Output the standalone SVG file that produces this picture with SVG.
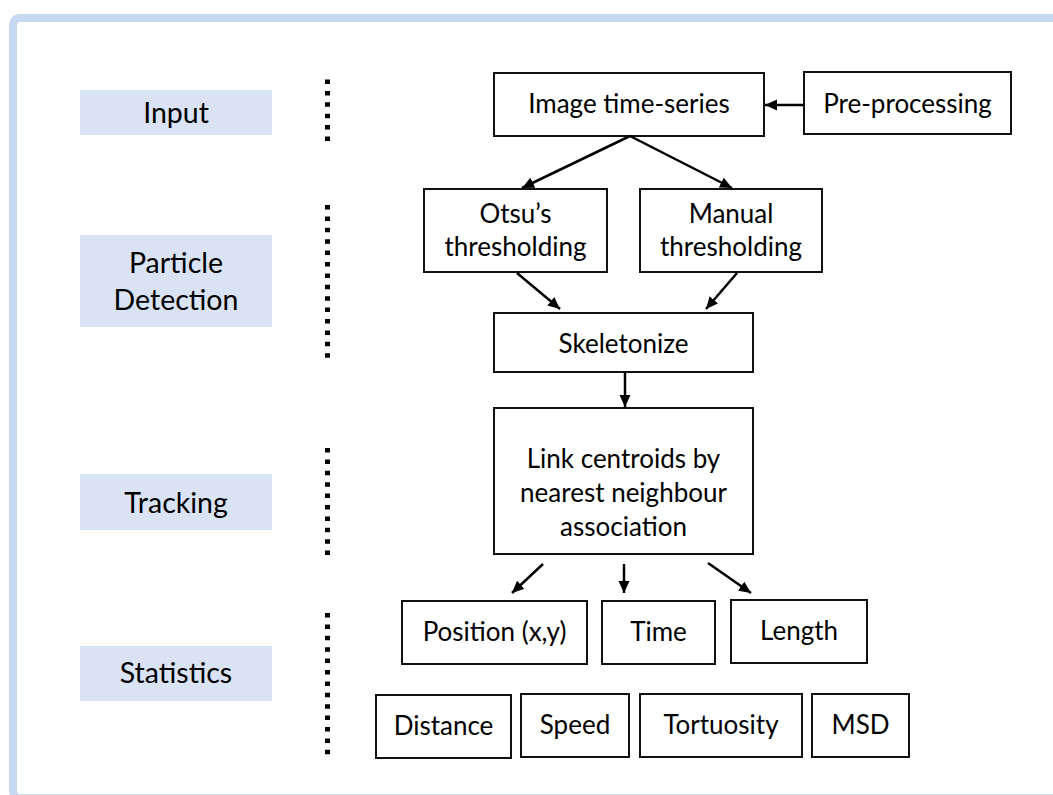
<svg xmlns="http://www.w3.org/2000/svg" width="1053" height="795" viewBox="0 0 1053 795">
<defs>
<style>
.frame{fill:none;stroke:#c6d9f0;stroke-width:8}
.lbl rect{fill:#dae3f3}
.lbl text{font-family:Lato,"Liberation Sans",sans-serif;font-size:28.5px;fill:#000;text-anchor:middle}
.node rect{fill:#fff;stroke:#111;stroke-width:2}
.node text{font-family:Lato,"Liberation Sans",sans-serif;font-size:26px;fill:#000;text-anchor:middle}
.dots line{stroke:#000;stroke-width:5;stroke-dasharray:4.5 6.9}
.conn line{stroke:#000;stroke-width:2.5;marker-end:url(#arr)}
</style>
<marker id="arr" markerUnits="userSpaceOnUse" markerWidth="13" markerHeight="12" refX="12" refY="5.5" orient="auto">
<path d="M0,0 L12,5.5 L0,11 z" fill="#000"/>
</marker>
</defs>
<rect width="1053" height="795" fill="#fff"/>
<rect class="frame" x="13" y="18" width="1070" height="780" rx="7"/>

<g class="dots">
<line x1="327.5" y1="79.5" x2="327.5" y2="142"/>
<line x1="327.5" y1="205" x2="327.5" y2="360"/>
<line x1="327.5" y1="448" x2="327.5" y2="556"/>
<line x1="327.5" y1="613" x2="327.5" y2="760"/>
</g>

<g id="lbl-input" class="lbl"><rect x="80" y="90" width="192" height="45"/><text x="176" y="123">Input</text></g>
<g id="lbl-particle" class="lbl"><rect x="80" y="235" width="192" height="92"/><text x="176" y="273">Particle</text><text x="176" y="310">Detection</text></g>
<g id="lbl-tracking" class="lbl"><rect x="80" y="474" width="192" height="56"/><text x="176" y="513">Tracking</text></g>
<g id="lbl-statistics" class="lbl"><rect x="80" y="646" width="192" height="55"/><text x="176" y="683">Statistics</text></g>

<g id="n-image" class="node"><rect x="494" y="73" width="270" height="63"/><text x="629" y="113">Image time-series</text></g>
<g id="n-pre" class="node"><rect x="804" y="72" width="207" height="62"/><text x="907.5" y="113">Pre-processing</text></g>
<g id="n-otsu" class="node"><rect x="424" y="189" width="183" height="83"/><text x="515.5" y="223">Otsu’s</text><text x="515.5" y="256">thresholding</text></g>
<g id="n-manual" class="node"><rect x="640" y="189" width="182" height="83"/><text x="731" y="223">Manual</text><text x="731" y="256">thresholding</text></g>
<g id="n-skel" class="node"><rect x="494" y="313" width="259" height="59"/><text x="623.5" y="353">Skeletonize</text></g>
<g id="n-link" class="node"><rect x="494" y="408" width="259" height="146"/><text x="623.5" y="468">Link centroids by</text><text x="623.5" y="502">nearest neighbour</text><text x="623.5" y="536">association</text></g>
<g id="n-pos" class="node"><rect x="402" y="601" width="185" height="63"/><text x="494.5" y="641">Position (x,y)</text></g>
<g id="n-time" class="node"><rect x="602" y="601" width="113" height="63"/><text x="658.5" y="641">Time</text></g>
<g id="n-length" class="node"><rect x="731" y="600" width="136" height="63"/><text x="799" y="640">Length</text></g>
<g id="n-dist" class="node"><rect x="376" y="695" width="135" height="63"/><text x="443.5" y="735">Distance</text></g>
<g id="n-speed" class="node"><rect x="521" y="694" width="108" height="63"/><text x="575" y="734">Speed</text></g>
<g id="n-tort" class="node"><rect x="640" y="694" width="162" height="63"/><text x="721" y="734">Tortuosity</text></g>
<g id="n-msd" class="node"><rect x="812" y="694" width="97" height="63"/><text x="860.5" y="734">MSD</text></g>

<g id="connectors" class="conn">
<line x1="804" y1="105" x2="765" y2="105"/>
<line x1="630" y1="136" x2="522" y2="188"/>
<line x1="630" y1="136" x2="732" y2="188"/>
<line x1="517" y1="273" x2="560" y2="309"/>
<line x1="737" y1="273" x2="706" y2="309"/>
<line x1="625" y1="372" x2="625" y2="407"/>
<line x1="543" y1="564" x2="512" y2="593"/>
<line x1="624" y1="564" x2="624" y2="593"/>
<line x1="708" y1="563" x2="751" y2="593"/>
</g>
</svg>
